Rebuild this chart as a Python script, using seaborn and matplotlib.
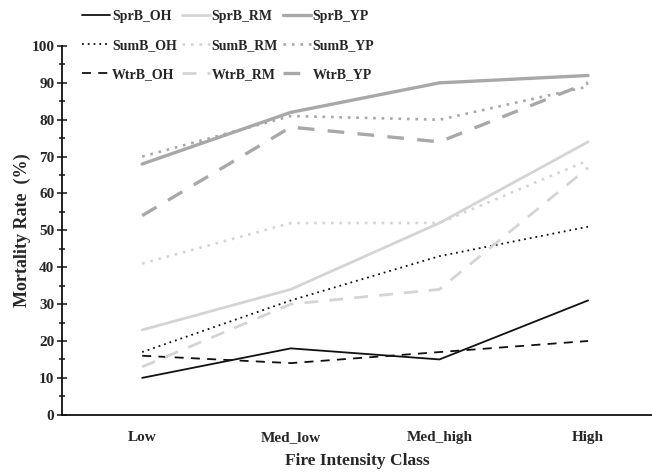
"""Mortality rate by fire intensity class, per burn season and species."""

import matplotlib
import matplotlib.pyplot as plt
import pandas as pd
import seaborn as sns
from matplotlib.lines import Line2D
from matplotlib.ticker import MultipleLocator

matplotlib.use("Agg")

classes = ["Low", "Med_low", "Med_high", "High"]
seasons = ["SprB", "SumB", "WtrB"]
species = ["OH", "RM", "YP"]

sprb_oh = [10, 18, 15, 31]
sprb_rm = [23, 34, 52, 74]
sprb_yp = [68, 82, 90, 92]
sumb_oh = [17, 31, 43, 51]
sumb_rm = [41, 52, 52, 69]
sumb_yp = [70, 81, 80, 89]
wtrb_oh = [16, 14, 17, 20]
wtrb_rm = [13, 30, 34, 67]
wtrb_yp = [54, 78, 74, 90]

values = {
    ("SprB", "OH"): sprb_oh, ("SprB", "RM"): sprb_rm, ("SprB", "YP"): sprb_yp,
    ("SumB", "OH"): sumb_oh, ("SumB", "RM"): sumb_rm, ("SumB", "YP"): sumb_yp,
    ("WtrB", "OH"): wtrb_oh, ("WtrB", "RM"): wtrb_rm, ("WtrB", "YP"): wtrb_yp,
}

colors = {"OH": "#111111", "RM": "#d4d4d4", "YP": "#a8a8a8"}
widths = {"OH": 1.3, "RM": 2.0, "YP": 2.4}
dashes = {"SprB": None, "SumB": (1, 2.2), "WtrB": (5, 4)}

rows = []
for (season, sp), vals in values.items():
    for c, v in zip(classes, vals):
        rows.append({"cls": c, "rate": v, "season": season, "species": sp})
df = pd.DataFrame(rows)

sns.set_theme(style="white")
plt.rcParams["font.family"] = ["Liberation Serif", "DejaVu Serif"]
plt.rcParams["font.weight"] = "bold"

fig = plt.figure(figsize=(6.52, 4.74), dpi=100)
ax = fig.add_axes([0.095, 0.125, 0.905, 0.778])

handles = {}
for (season, sp) in values:
    sub = df[(df["season"] == season) & (df["species"] == sp)]
    lw = widths[sp] if season != "SumB" else min(widths[sp], 1.9)
    sns.lineplot(data=sub, x="cls", y="rate", ax=ax, sort=False,
                 color=colors[sp], linewidth=lw)
    line = ax.get_lines()[-1]
    h = Line2D([], [], color=colors[sp], linewidth=lw)
    if dashes[season] is not None:
        line.set_dashes(dashes[season])
        h.set_dashes(dashes[season])
    handles[(season, sp)] = h

ax.set_xlim(-0.54, 3.43)
ax.set_ylim(0, 100)
ax.yaxis.set_major_locator(MultipleLocator(10))
ax.yaxis.set_minor_locator(MultipleLocator(5))
ax.tick_params(axis="y", which="major", direction="inout", length=7, width=1.2,
               labelsize=11, left=True, pad=2)
ax.tick_params(axis="y", which="minor", direction="inout", length=5, width=1.2, left=True)
ax.tick_params(axis="x", length=0, labelsize=11, pad=12)
for s in ["top", "right"]:
    ax.spines[s].set_visible(False)
for s in ["left", "bottom"]:
    ax.spines[s].set_color("#111111")
    ax.spines[s].set_linewidth(1.3)

ax.set_xlabel("Fire Intensity Class", fontsize=12.5, fontweight="bold", labelpad=6)
ax.set_ylabel("Mortality Rate  (%)", fontsize=13, fontweight="bold", labelpad=0)
for lab in ax.get_xticklabels() + ax.get_yticklabels():
    lab.set_fontweight("bold")

# column-major order so that each row is one burn season
order = [(se, sp) for sp in species for se in seasons]
fig.legend([handles[k] for k in order], [f"{k[0]}_{k[1]}" for k in order],
           ncol=3, loc="upper left", bbox_to_anchor=(0.107, 1.005), frameon=False,
           prop={"family": "Liberation Serif", "weight": "bold", "size": 10},
           handlelength=2.0, handletextpad=0.15, columnspacing=0.35, labelspacing=1.15)

fig.savefig("out.png", dpi=100)
